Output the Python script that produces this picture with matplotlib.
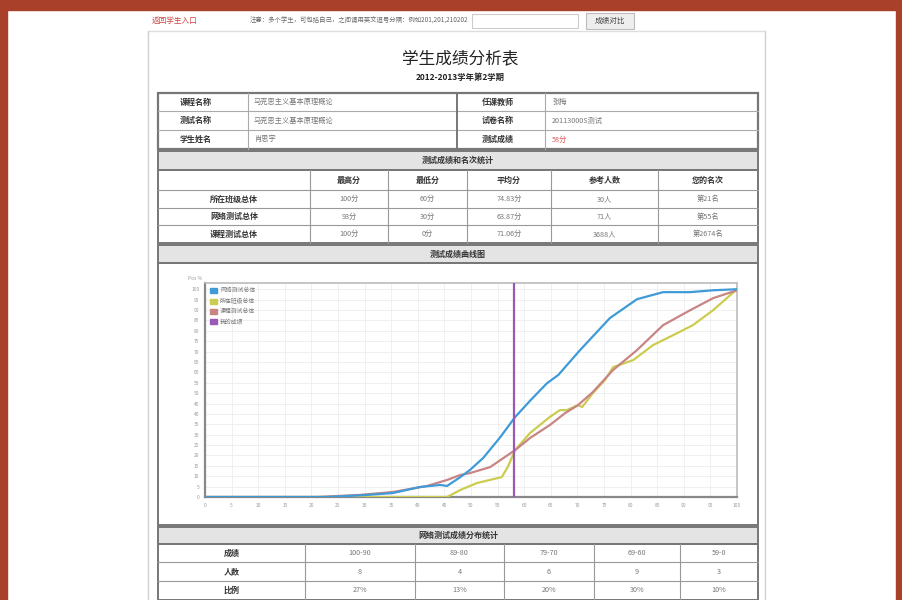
import matplotlib
matplotlib.use("Agg")
import matplotlib.pyplot as plt
from matplotlib.patches import Rectangle, Patch

plt.rcParams['font.family'] = ['Noto Sans CJK SC', 'DejaVu Sans']

# Curve data: score (x) vs cumulative percent (y)
blue_x = [0, 22.9, 30.5, 35.3, 40.4, 44.2, 45.5, 48.0, 49.8, 52.3, 55.5, 58.3, 61.2, 64.3, 66.4, 70.5, 76.1, 81.2, 86.1, 91.2, 95.5, 100]
blue_y = [0, 0, 1.0, 1.9, 4.8, 5.8, 5.3, 9.6, 13.0, 18.8, 28.8, 38.5, 46.6, 54.8, 58.7, 70.7, 86.1, 95.2, 98.6, 98.6, 99.5, 100]
yellow_x = [0, 45.5, 48.0, 51.1, 55.8, 56.9, 58.3, 61.1, 64.8, 66.7, 68.0, 70.1, 70.9, 72.9, 75.2, 76.7, 80.5, 84.2, 88.0, 91.7, 95.5, 100]
yellow_y = [0, 0, 3.4, 6.7, 9.6, 14.4, 22.6, 30.8, 38.5, 41.8, 41.8, 44.2, 43.3, 50.0, 56.3, 62.5, 65.9, 73.1, 77.9, 82.7, 89.9, 100]
red_x = [0, 21.1, 29.1, 35.3, 41.7, 45.5, 48.0, 49.8, 53.6, 58.3, 61.1, 64.8, 67.7, 70.1, 72.9, 76.7, 81.2, 86.1, 91.2, 95.5, 100]
red_y = [0, 0, 1.0, 2.4, 5.3, 8.2, 10.6, 11.5, 14.4, 22.6, 28.4, 34.6, 40.4, 44.2, 50.5, 61.1, 70.7, 82.7, 89.9, 95.7, 99.5]
my_score = 58
legend_names = ['网络测试总体', '所在班级总体', '课程测试总体', '我的成绩']
line_colors = ['#3f9bd8', '#cccc50', '#c88584', '#9b59b6']

# Table texts
info_rows = [['课程名称', '马克思主义基本原理概论', '任课教师', '张梅'],
             ['测试名称', '马克思主义基本原理概论', '试卷名称', '20113000S测试'],
             ['学生姓名', '肖思宇', '测试成绩', '58分']]
stat_head = ['', '最高分', '最低分', '平均分', '参考人数', '您的名次']
stat_rows = [['所在班级总体', '100分', '60分', '74.83分', '30人', '第21名'],
             ['网络测试总体', '93分', '30分', '63.87分', '71人', '第55名'],
             ['课程测试总体', '100分', '0分', '71.06分', '3688人', '第2674名']]
dist_rows = [['成绩', '100-90', '89-80', '79-70', '69-60', '59-0'],
             ['人数', '8', '4', '6', '9', '3'],
             ['比例', '27%', '13%', '20%', '30%', '10%']]

fig = plt.figure(figsize=(9.03, 6.0), dpi=100)
bg = fig.add_axes([0, 0, 1, 1])
bg.set_xlim(0, 903)
bg.set_ylim(600, 0)
bg.axis('off')

brown = '#a8402a'
bg.add_patch(Rectangle((0, 0), 903, 10, color=brown))
bg.add_patch(Rectangle((0, 0), 7, 600, color=brown))
bg.add_patch(Rectangle((896, 0), 7, 600, color=brown))

# page border
bg.plot([148, 148], [31, 600], color='#d0d0d0', lw=1)
bg.plot([765, 765], [31, 600], color='#d0d0d0', lw=1)
bg.plot([148, 765], [31, 31], color='#dddddd', lw=1)

# top bar
bg.text(152, 21, '返回学生入口', color='#cc4444', fontsize=5.5, va='center')
bg.text(250, 21, '注意：多个学生，可包括自己，之间请用英文逗号分隔：例如201,201,210202',
        color='#666666', fontsize=4.6, va='center')
bg.add_patch(Rectangle((472, 14), 106, 14, fill=False, ec='#cccccc', lw=0.8))
bg.add_patch(Rectangle((586, 13), 48, 16, fc='#eeeeee', ec='#bbbbbb', lw=0.8))
bg.text(610, 21, '成绩对比', color='#444444', fontsize=5.5, ha='center', va='center')

# title
bg.text(460, 59, '学生成绩分析表', fontsize=12, ha='center', va='center', color='#222222')
bg.text(460, 77, '2012-2013学年第2学期', fontsize=6, ha='center', va='center',
        color='#222222', fontweight='bold')

dark = '#777777'
lab = '#333333'
val = '#777777'


def hline(y, x0=158, x1=758, c=dark, w=1.0):
    bg.plot([x0, x1], [y, y], color=c, lw=w)


def vline(x, y0, y1, c=dark, w=1.0):
    bg.plot([x, x], [y0, y1], color=c, lw=w)


# info table
iy = [93, 111, 130, 149]
bg.add_patch(Rectangle((158, iy[0]), 600, iy[-1] - iy[0], fill=False, ec=dark, lw=1.6))
for y in iy[1:-1]:
    hline(y, c='#aaaaaa', w=0.8)
for x in [248, 545]:
    vline(x, iy[0], iy[-1], c='#aaaaaa', w=0.8)
vline(457, iy[0], iy[-1], c=dark, w=1.4)
for i, row in enumerate(info_rows):
    yc = (iy[i] + iy[i + 1]) / 2
    bg.text(196, yc, row[0], fontsize=5.8, ha='center', va='center', color=lab, fontweight='bold')
    bg.text(254, yc, row[1], fontsize=5.2, ha='left', va='center', color=val)
    bg.text(498, yc, row[2], fontsize=5.8, ha='center', va='center', color=lab, fontweight='bold')
    bg.text(552, yc, row[3], fontsize=5.2, ha='left', va='center',
            color='#dd5555' if i == 2 else val)


def band(y0, y1, title):
    bg.add_patch(Rectangle((158, y0), 600, y1 - y0, fc='#e4e4e4', ec=dark, lw=1.4))
    bg.text(458, (y0 + y1) / 2, title, fontsize=5.8, ha='center', va='center',
            color=lab, fontweight='bold')


# stats table
band(151, 170, '测试成绩和名次统计')
sy = [170, 190, 208, 225, 243]
scols = [158, 310, 388, 467, 551, 658, 758]
bg.add_patch(Rectangle((158, sy[0]), 600, sy[-1] - sy[0], fill=False, ec=dark, lw=1.4))
for y in sy[1:-1]:
    hline(y, c='#999999', w=0.8)
for x in scols[1:-1]:
    vline(x, sy[0], sy[-1], c='#999999', w=0.8)
for j, h in enumerate(stat_head):
    bg.text((scols[j] + scols[j + 1]) / 2, (sy[0] + sy[1]) / 2, h, fontsize=5.8,
            ha='center', va='center', color=lab, fontweight='bold')
for i, row in enumerate(stat_rows):
    yc = (sy[i + 1] + sy[i + 2]) / 2
    for j, t in enumerate(row):
        bg.text((scols[j] + scols[j + 1]) / 2, yc, t, fontsize=5.8 if j == 0 else 5.2,
                ha='center', va='center', color=lab if j == 0 else val,
                fontweight='bold' if j == 0 else 'normal')

# chart section
band(245, 263, '测试成绩曲线图')
bg.add_patch(Rectangle((158, 263), 600, 262, fill=False, ec=dark, lw=1.4))

# distribution table
band(527, 544, '网络测试成绩分布统计')
dy = [544, 562, 581, 600]
dcols = [158, 305, 415, 504, 594, 680, 758]
bg.add_patch(Rectangle((158, dy[0]), 600, dy[-1] - dy[0], fill=False, ec=dark, lw=1.4))
for y in dy[1:-1]:
    hline(y, c='#999999', w=0.8)
for x in dcols[1:-1]:
    vline(x, dy[0], dy[-1], c='#999999', w=0.8)
for i, row in enumerate(dist_rows):
    yc = (dy[i] + dy[i + 1]) / 2
    for j, t in enumerate(row):
        bg.text((dcols[j] + dcols[j + 1]) / 2, yc, t, fontsize=5.8 if j == 0 else 5.2,
                ha='center', va='center', color=lab if j == 0 else val,
                fontweight='bold' if j == 0 else 'normal')

# the chart itself
ax = fig.add_axes([205 / 903, 1 - 497 / 600, (737 - 205) / 903, (497 - 283) / 600])
ax.plot(blue_x, blue_y, color=line_colors[0], lw=1.6, zorder=4)
ax.plot(yellow_x, yellow_y, color=line_colors[1], lw=1.6, zorder=3)
ax.plot(red_x, red_y, color=line_colors[2], lw=1.6, zorder=3)
ax.axvline(my_score, color=line_colors[3], lw=1.6, zorder=5)
ax.set_xlim(0, 100)
ax.set_ylim(0, 103)
ax.set_xticks(range(0, 101, 5))
ax.set_yticks(range(0, 101, 5))
ax.tick_params(labelsize=3.5, colors='#999999', length=0, pad=4)
ax.grid(True, color='#eeeeee', lw=0.6)
for s in ['left', 'bottom']:
    ax.spines[s].set_color('#888888')
    ax.spines[s].set_linewidth(1.6)
for s in ['top', 'right']:
    ax.spines[s].set_color('#bbbbbb')
    ax.spines[s].set_linewidth(1.2)
ax.text(-0.5, 104, 'Pos %', fontsize=3.5, color='#999999', ha='right', va='bottom')
handles = [Patch(color=c, label=n) for c, n in zip(line_colors, legend_names)]
ax.legend(handles=handles, loc='upper left', fontsize=4.2, frameon=False,
          handlelength=1.2, handleheight=0.9, labelspacing=0.8, borderaxespad=0.4,
          handletextpad=0.6, labelcolor='#777777')

fig.savefig('out.png', dpi=100)
